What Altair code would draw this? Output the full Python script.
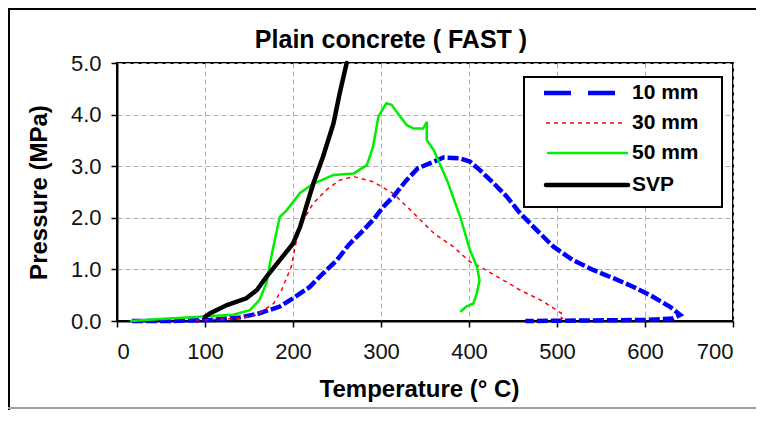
import altair as alt
import pandas as pd

# ---- data (Temperature °C, Pressure MPa) ----
t10 = [17, 60, 106, 140, 162, 185, 200, 219, 234, 250, 263, 280, 291, 303, 314,
       329, 342, 356, 371, 390, 401, 412, 428, 443, 458, 477, 496, 518, 541, 564,
       587, 609, 628, 640, 632, 602, 540, 464]
p10 = [0.0, 0.0, 0.02, 0.07, 0.15, 0.28, 0.44, 0.66, 0.92, 1.18, 1.47, 1.76, 1.96,
       2.22, 2.41, 2.73, 2.96, 3.06, 3.17, 3.15, 3.09, 2.93, 2.67, 2.41, 2.09, 1.76,
       1.44, 1.18, 0.99, 0.83, 0.66, 0.47, 0.28, 0.12, 0.05, 0.02, 0.01, 0.0]

t30 = [90, 140, 159, 178, 187, 198, 204, 212, 223, 238, 253, 269, 291, 314, 337,
       360, 382, 401, 416, 432, 458, 481, 496, 505, 503, 506, 502]
p30 = [0.02, 0.05, 0.12, 0.34, 0.60, 1.05, 1.57, 1.96, 2.28, 2.54, 2.73, 2.80, 2.70,
       2.47, 2.09, 1.70, 1.44, 1.15, 1.02, 0.86, 0.60, 0.41, 0.25, 0.15, 0.10, 0.05, 0.0]

t50 = [15, 50, 94, 132, 151, 162, 170, 174, 180, 185, 193, 208, 223, 246, 269, 284,
       291, 297, 306, 312, 322, 329, 337, 348, 352, 352, 360, 375, 390, 401, 409, 412,
       409, 405, 397, 390]
p50 = [0.0, 0.04, 0.08, 0.12, 0.21, 0.41, 0.74, 1.13, 1.63, 2.02, 2.15, 2.48, 2.66,
       2.83, 2.86, 3.02, 3.38, 3.96, 4.22, 4.19, 3.96, 3.80, 3.73, 3.73, 3.86, 3.51,
       3.31, 2.73, 2.02, 1.38, 1.05, 0.79, 0.54, 0.34, 0.28, 0.18]

tsvp = [100, 106, 125, 147, 159, 170, 185, 200, 208, 216, 223, 234, 246, 253, 261]
psvp = [0.08, 0.15, 0.31, 0.44, 0.60, 0.86, 1.18, 1.50, 1.82, 2.27, 2.66, 3.18, 3.83,
        4.41, 5.0]

series_names = ["10 mm", "30 mm", "50 mm", "SVP"]
x_ticks = [0, 100, 200, 300, 400, 500, 600, 700]
y_ticks = [0, 1, 2, 3, 4, 5]

FONT = "Liberation Sans"
W, H = 616, 258


def frame(t, p):
    return pd.DataFrame({"T": t, "P": p, "i": list(range(len(t)))})


x_enc = alt.X(
    "T:Q",
    scale=alt.Scale(domain=[0, 700], nice=False, zero=False),
    axis=alt.Axis(
        values=x_ticks, title="Temperature (° C)", format="d",
        grid=True, gridColor="#b0b0b0", gridDash=[5, 3], gridWidth=1,
        domainColor="black", domainWidth=2, tickColor="black", tickWidth=1.5,
        tickSize=6, labelFontSize=22, labelFont=FONT, labelColor="#111111",
        labelPadding=14, titleFont=FONT, titleFontSize=24, titleFontWeight="bold",
        titleColor="black", titleX=302, titleY=75, titleBaseline="alphabetic",
        titleAnchor="middle", titleAlign="center",
    ),
)
y_enc = alt.Y(
    "P:Q",
    scale=alt.Scale(domain=[0, 5], nice=False),
    axis=alt.Axis(
        values=y_ticks, title="Pressure (MPa)", format=".1f",
        grid=True, gridColor="#b0b0b0", gridDash=[5, 3], gridWidth=1,
        domainColor="black", domainWidth=2, tickColor="black", tickWidth=1.5,
        tickSize=6, labelFontSize=22, labelFont=FONT, labelColor="#111111",
        labelPadding=10, titleFont=FONT, titleFontSize=24, titleFontWeight="bold",
        titleColor="black", titleX=-78, titleY=H / 2, titleAngle=270,
        titleBaseline="middle", titleAlign="center",
    ),
)

styles = [
    dict(color="#0000ff", strokeWidth=4.5, strokeDash=[11, 3]),
    dict(color="#ff0000", strokeWidth=1.5, strokeDash=[4, 4]),
    dict(color="#00ee00", strokeWidth=2.5),
    dict(color="#000000", strokeWidth=4.5, strokeCap="round"),
]
data_sets = [(t10, p10), (t30, p30), (t50, p50), (tsvp, psvp)]

lines = []
for (t, p), st in zip(data_sets, styles):
    lines.append(
        alt.Chart(frame(t, p)).mark_line(**st).encode(x=x_enc, y=y_enc, order="i:Q")
    )

one = pd.DataFrame({"k": [0]})

# outer chart frame as thin filled bands: dark left/top edge, grey bottom edge
edge_top = alt.Chart(one).mark_rect(fill="black", strokeWidth=0).encode(
    x=alt.value(-109), x2=alt.value(660), y=alt.value(-55), y2=alt.value(-53))
edge_left = alt.Chart(one).mark_rect(fill="black", strokeWidth=0).encode(
    x=alt.value(-109), x2=alt.value(-107), y=alt.value(-55), y2=alt.value(347))
edge_bottom = alt.Chart(one).mark_rect(fill="#a0a0a0", strokeWidth=0).encode(
    x=alt.value(-109), x2=alt.value(660), y=alt.value(344), y2=alt.value(346))

# chart title
title = alt.Chart(one).mark_text(
    text="Plain concrete ( FAST )", font=FONT, fontSize=25, fontWeight="bold",
    align="center", baseline="alphabetic", color="black",
).encode(x=alt.value(274), y=alt.value(-15))

# legend (drawn inside plot like the original)
legend_box = alt.Chart(one).mark_rect(fill="white", stroke="black", strokeWidth=2).encode(
    x=alt.value(407), x2=alt.value(605), y=alt.value(14), y2=alt.value(144))
leg_rows = [30, 60, 90, 122]
leg_x = [(427, 500), (429, 508), (430, 511), (429, 511)]
leg_dash = [[27, 17], [4, 4], None, None]
legend_layers = [legend_box]
for name, st, yy, (xa, xb), dsh in zip(series_names, styles, leg_rows, leg_x, leg_dash):
    kw = dict(color=st["color"], strokeWidth=st["strokeWidth"])
    if dsh:
        kw["strokeDash"] = dsh
    if name == "SVP":
        kw["strokeCap"] = "round"
    legend_layers.append(
        alt.Chart(one).mark_rule(**kw).encode(x=alt.value(xa), x2=alt.value(xb), y=alt.value(yy))
    )
    legend_layers.append(
        alt.Chart(one).mark_text(
            text=name, font=FONT, fontSize=21, fontWeight="bold", align="left",
            baseline="middle", color="black",
        ).encode(x=alt.value(515), y=alt.value(yy))
    )

chart = alt.layer(
    edge_top, edge_left, edge_bottom, *lines, *legend_layers, title
).properties(
    width=W, height=H,
    autosize=alt.AutoSizeParams(type="none"),
    padding={"left": 109, "top": 55, "right": 23, "bottom": 90},
    background="white",
).configure_view(stroke="black", strokeWidth=2)

chart.save("out.html", embed_options={"renderer": "svg", "actions": False})
